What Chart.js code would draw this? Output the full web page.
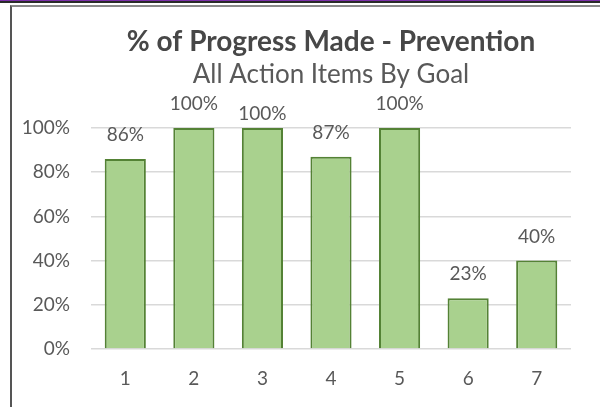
<!DOCTYPE html>
<html>
<head>
<meta charset="utf-8">
<script src="https://cdn.jsdelivr.net/npm/chart.js@4.4.1/dist/chart.umd.min.js"></script>
<style>
  html, body { margin: 0; padding: 0; width: 600px; height: 407px; overflow: hidden; background: #fff; }
  .line-purple { position: absolute; left: 0; top: 0; width: 600px; height: 1px; background: #7b2fa8; }
  .line-dark { position: absolute; left: 0; top: 1px; width: 600px; height: 2px; background: #2a2a2a; }
  .frame { position: absolute; left: 10px; top: 5px; width: 620px; height: 420px;
           border-left: 2px solid #555; border-top: 2px solid #8a8a8a; }
  #wrap { position: absolute; left: 12px; top: 7px; width: 600px; height: 400px; }
</style>
</head>
<body>
<div class="line-purple"></div>
<div class="line-dark"></div>
<div class="frame"></div>
<div id="wrap"><canvas id="progressChart"></canvas></div>
<script>
// Chart data
const goals = ['1', '2', '3', '4', '5', '6', '7'];
const progress = [86, 100, 100, 87, 100, 23, 40];
const yTicks = [0, 20, 40, 60, 80, 100];
const chartTitle = '% of Progress Made - Prevention';
const chartSubtitle = 'All Action Items By Goal';

const textGray = '#595959';
const fontFamily = 'Lato, "Open Sans", sans-serif';

// Titles + value labels drawn on top of the chart
const labelsPlugin = {
    id: 'excelLabels',
    afterDatasetsDraw(chart) {
        const ctx = chart.ctx;
        const area = chart.chartArea;
        const cx = (area.left + area.right) / 2;
        ctx.save();
        ctx.textAlign = 'center';
        ctx.textBaseline = 'middle';

        ctx.fillStyle = '#474747';
        ctx.font = 'bold 28px ' + fontFamily;
        ctx.fillText(chartTitle, cx, 35);
        ctx.fillStyle = textGray;
        ctx.font = '26px ' + fontFamily;
        ctx.fillText(chartSubtitle, cx, 68);

        // Excel nudged the 3rd label down a bit
        const lift = [24, 24, 14, 24, 24, 24, 24];
        ctx.font = '19px ' + fontFamily;
        const meta = chart.getDatasetMeta(0);
        meta.data.forEach((bar, i) => {
            ctx.fillText(progress[i] + '%', bar.x, bar.y - lift[i]);
        });
        ctx.restore();
    }
};

const ctx = document.getElementById('progressChart').getContext('2d');
const progressChart = new Chart(ctx, {
    type: 'bar',
    data: {
        labels: goals,
        datasets: [{
            data: progress,
            backgroundColor: '#a9d18e',
            borderColor: '#548235',
            borderWidth: 2,
            borderSkipped: 'bottom',
            barPercentage: 0.6,
            categoryPercentage: 1.0
        }]
    },
    options: {
        responsive: true,
        maintainAspectRatio: false,
        animation: false,
        layout: { padding: { top: 121, right: 41, bottom: 0, left: 0 } },
        plugins: {
            legend: { display: false },
            title: { display: false },
            tooltip: { enabled: false }
        },
        scales: {
            x: {
                grid: { display: false },
                border: { display: false },
                afterFit: (scale) => { scale.height = 58; },
                ticks: { color: textGray, font: { family: fontFamily, size: 19 }, padding: 10 }
            },
            y: {
                min: 0,
                max: 100,
                afterBuildTicks: (scale) => { scale.ticks = yTicks.map(v => ({ value: v })); },
                afterFit: (scale) => { scale.width = 79; },
                grid: { color: '#d9d9d9', lineWidth: 1.5, drawTicks: false },
                border: { display: false },
                ticks: {
                    color: textGray,
                    padding: 21,
                    font: { family: fontFamily, size: 19 },
                    callback: (v) => v + '%'
                }
            }
        }
    },
    plugins: [labelsPlugin]
});
</script>
</body>
</html>
